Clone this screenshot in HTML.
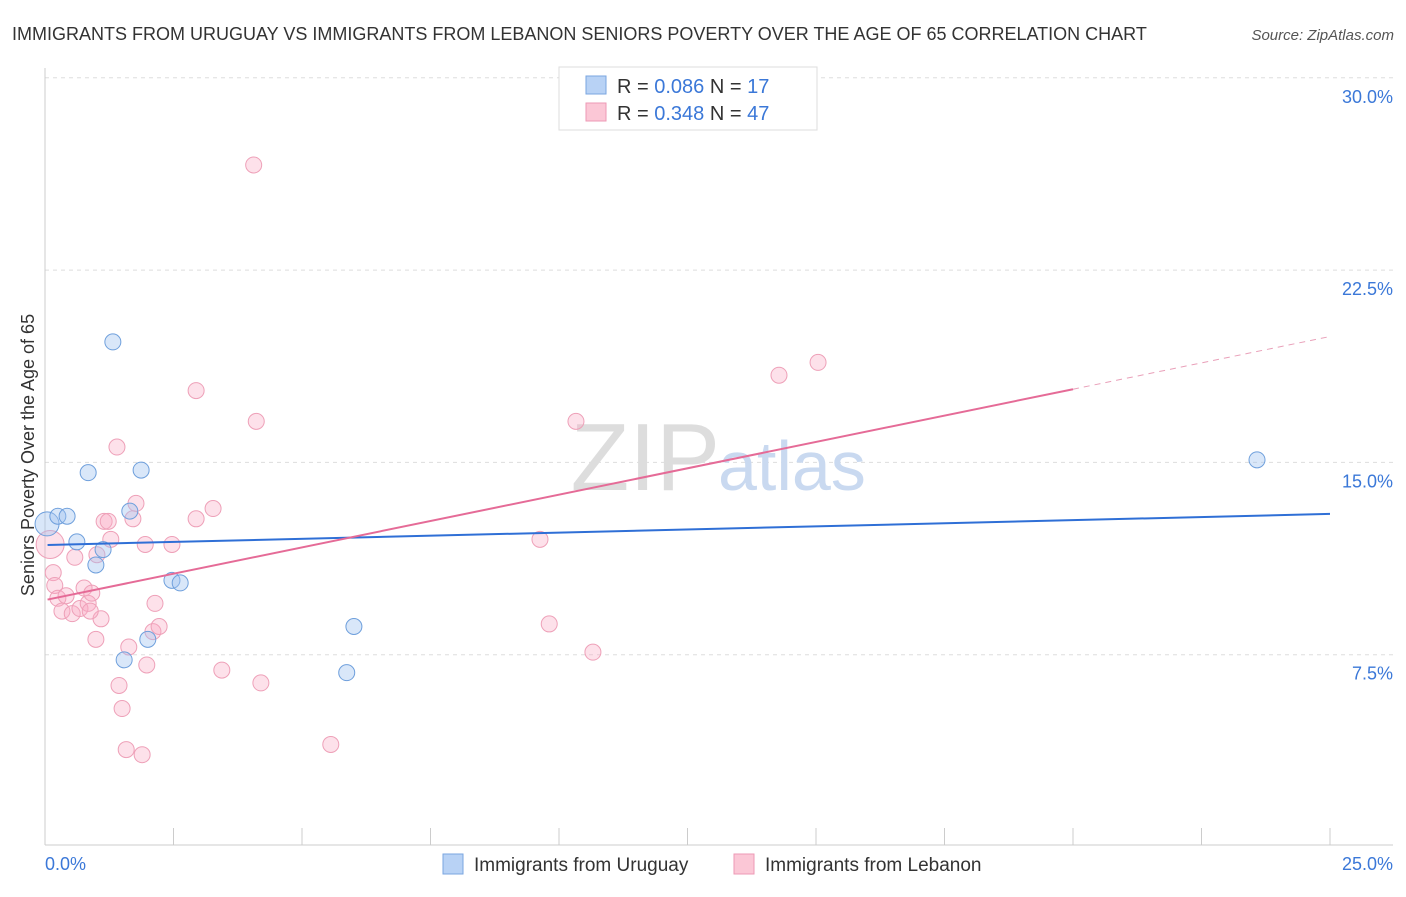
<!DOCTYPE html>
<html><head><meta charset="utf-8"><style>
body{margin:0;background:#fff;font-family:"Liberation Sans",sans-serif;}
svg text{font-family:"Liberation Sans",sans-serif;}
</style></head><body>
<svg width="1406" height="892" viewBox="0 0 1406 892">
<text x="12" y="40" font-size="18" fill="#333">IMMIGRANTS FROM URUGUAY VS IMMIGRANTS FROM LEBANON SENIORS POVERTY OVER THE AGE OF 65 CORRELATION CHART</text>
<text x="1394" y="40" font-size="15" fill="#555" font-style="italic" text-anchor="end">Source: ZipAtlas.com</text>
<g id="grid"></g>
<g id="axes"></g>
<text x="720" y="490" font-size="96" fill="#ddd" text-anchor="end" font-family="Liberation Serif">ZIP</text>
<text x="718" y="490" font-size="70" fill="#c9d9f0">atlas</text>
<g id="marks"></g>
<text transform="translate(34,455) rotate(-90)" font-size="18" fill="#333" text-anchor="middle">Seniors Poverty Over the Age of 65</text>
<g>
<rect x="559" y="67" width="258" height="63" fill="#fff" stroke="#ddd"/>
<rect x="586" y="76" width="20" height="18" fill="#b8d2f5" stroke="#7aa6e0"/>
<rect x="586" y="103" width="20" height="18" fill="#fbc7d6" stroke="#ee9ab5"/>
<text x="617" y="93" font-size="20" fill="#333">R = <tspan fill="#3b78d8">0.086</tspan>   N =  <tspan fill="#3b78d8">17</tspan></text>
<text x="617" y="120" font-size="20" fill="#333">R = <tspan fill="#3b78d8">0.348</tspan>   N = <tspan fill="#3b78d8">47</tspan></text>
</g>
<g>
<rect x="443" y="854" width="20" height="20" fill="#b8d2f5" stroke="#7aa6e0"/>
<text x="474" y="871" font-size="19" fill="#333">Immigrants from Uruguay</text>
<rect x="734" y="854" width="20" height="20" fill="#fbc7d6" stroke="#ee9ab5"/>
<text x="765" y="871" font-size="19" fill="#333">Immigrants from Lebanon</text>
</g>
</svg>
<script>
const uruguayX=[0.04,0.25,0.43,0.62,0.84,0.99,1.13,1.32,1.54,1.65,1.87,2.0,2.47,2.63,6.01,5.87,23.58];
const uruguayY=[12.6,12.9,12.9,11.9,14.6,11.0,11.6,19.7,7.3,13.1,14.7,8.1,10.4,10.3,8.6,6.8,15.1];
const lebanonX=[0.1,0.16,0.19,0.25,0.33,0.41,0.53,0.58,0.68,0.76,0.84,0.91,0.99,1.01,1.09,1.15,1.23,1.28,1.4,1.44,1.5,1.58,1.63,1.71,1.77,1.89,1.95,1.98,2.1,2.14,2.22,2.47,2.94,2.94,3.27,3.44,4.06,4.11,4.2,5.56,9.63,9.81,10.33,10.66,14.28,15.04,0.88];
const lebanonY=[11.8,10.7,10.2,9.7,9.2,9.8,9.1,11.3,9.3,10.1,9.5,9.9,8.1,11.4,8.9,12.7,12.7,12.0,15.6,6.3,5.4,3.8,7.8,12.8,13.4,3.6,11.8,7.1,8.4,9.5,8.6,11.8,17.8,12.8,13.2,6.9,26.6,16.6,6.4,4.0,12.0,8.7,16.6,7.6,18.4,18.9,9.2];
const xTicks=[0,2.5,5,7.5,10,12.5,15,17.5,20,22.5,25];
const yTicks=[7.5,15,22.5,30];
const yTickLabels=["7.5%","15.0%","22.5%","30.0%"];
const blueTrend=[11.78,12.99];
const pinkTrend=[9.63,19.91];
const NS='http://www.w3.org/2000/svg';
const X=v=>45+v*51.4, Y=v=>847-v*25.64;
function mk(t,a,p){const e=document.createElementNS(NS,t);for(const k in a)e.setAttribute(k,a[k]);p.appendChild(e);return e;}
const grid=document.getElementById('grid'),axes=document.getElementById('axes'),marks=document.getElementById('marks');
yTicks.forEach((t,i)=>{
 const l=mk('line',{x1:45,x2:1393,y1:Y(t),y2:Y(t),stroke:'#ddd','stroke-dasharray':'4,4'},grid);
 
 
 const tx=mk('text',{x:1393,y:Y(t)+25,'font-size':18,fill:'#3b78d8','text-anchor':'end'},axes);
 tx.textContent=yTickLabels[i];
 
 
});
mk('line',{x1:45,x2:45,y1:68,y2:845,stroke:'#ccc'},axes);
mk('line',{x1:45,x2:1393,y1:845,y2:845,stroke:'#ccc'},axes);
xTicks.forEach(t=>{const l=mk('line',{x1:X(t),x2:X(t),y1:828,y2:845,stroke:'#ccc'},axes);
 
 });
let a=mk('text',{x:45,y:870,'font-size':18,fill:'#3b78d8'},axes);a.textContent='0.0%';


a=mk('text',{x:1393,y:870,'font-size':18,fill:'#3b78d8','text-anchor':'end'},axes);a.textContent='25.0%';


lebanonX.forEach((x,i)=>{const c=mk('circle',{cx:X(x),cy:Y(lebanonY[i]),r:i==0?14:8,fill:'rgba(248,170,195,0.35)',stroke:'#eea0b8','stroke-width':1},marks);
 
 });
uruguayX.forEach((x,i)=>{const c=mk('circle',{cx:X(x),cy:Y(uruguayY[i]),r:i==0?12:8,fill:'rgba(160,195,240,0.4)',stroke:'#6e9fdc','stroke-width':1},marks);
 
 });
let ln=mk('line',{x1:X(0.05),y1:Y(blueTrend[0]),x2:X(25),y2:Y(blueTrend[1]),stroke:'#2f6fd6','stroke-width':2},marks);


const py=x=>pinkTrend[0]+(pinkTrend[1]-pinkTrend[0])*x/25;
ln=mk('line',{x1:X(0.05),y1:Y(py(0.05)),x2:X(20),y2:Y(py(20)),stroke:'#e56b97','stroke-width':2},marks);


ln=mk('line',{x1:X(20),y1:Y(py(20)),x2:X(25),y2:Y(py(25)),stroke:'#e9a0b9','stroke-width':1,'stroke-dasharray':'6,5'},marks);


</script>
</body></html>
